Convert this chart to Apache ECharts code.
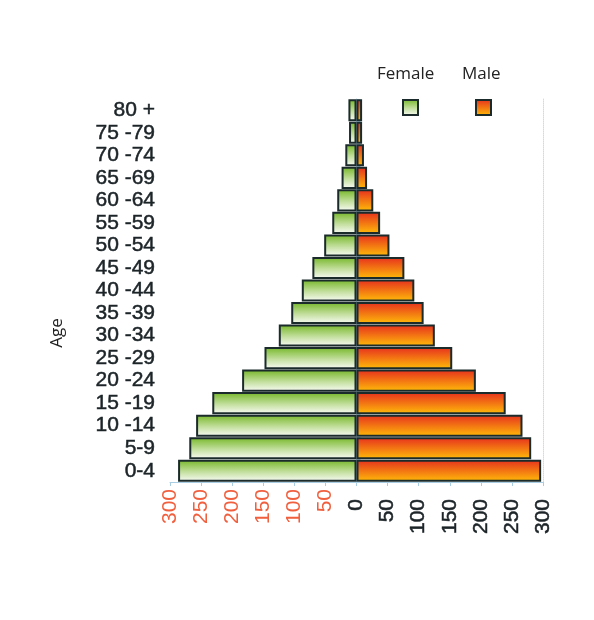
<!DOCTYPE html>
<html>
<head>
<meta charset="utf-8">
<script src="https://cdn.jsdelivr.net/npm/echarts@6/dist/echarts.min.js"></script>
<style>
  html, body { margin: 0; padding: 0; background: #fff; }
  #main { width: 594px; height: 620px; }
</style>
</head>
<body>
<div id="main"></div>
<script>
// age groups, bottom to top
var ageGroups = ['0-4', '5-9', '10 -14', '15 -19', '20 -24', '25 -29', '30 -34', '35 -39',
  '40 -44', '45 -49', '50 -54', '55 -59', '60 -64', '65 -69', '70 -74', '75 -79', '80 +'];
var female = [287, 269, 258, 232, 184, 148, 125, 105, 88, 71, 52, 39, 31, 24, 18, 12, 13];
var male = [297, 281, 267, 240, 192, 154, 126, 108, 93, 77, 53, 38, 27, 17, 12, 9, 9];

var chart = echarts.init(document.getElementById('main'), null, { renderer: 'canvas' });

var femaleFill = new echarts.graphic.LinearGradient(0, 0, 0, 1, [
  { offset: 0, color: '#74b626' },
  { offset: 0.55, color: '#c3df9e' },
  { offset: 1, color: '#fbfcf8' }
]);
var maleFill = new echarts.graphic.LinearGradient(0, 0, 0, 1, [
  { offset: 0, color: '#e62e1e' },
  { offset: 1, color: '#ffbd08' }
]);

var labelFont = { fontFamily: 'Liberation Sans', fontSize: 21, textBorderWidth: 0.5 };

var option = {
  backgroundColor: '#fff',
  animation: false,
  grid: { left: 170, right: 51, top: 99, bottom: 138 },
  legend: [
    {
      data: ['Female'], left: 397, top: 94, itemWidth: 15, itemHeight: 15, icon: 'rect',
      formatter: function () { return ''; }, selectedMode: false
    },
    {
      data: ['Male'], left: 470, top: 94, itemWidth: 15, itemHeight: 15, icon: 'rect',
      formatter: function () { return ''; }, selectedMode: false
    }
  ],
  graphic: [
    { type: 'text', left: 377, top: 66, style: { text: 'Female', font: '17px "Open Sans"', fill: '#222' } },
    { type: 'text', left: 462, top: 66, style: { text: 'Male', font: '17px "Open Sans"', fill: '#222' } },
    {
      type: 'text', x: 57, y: 333, rotation: Math.PI / 2,
      style: { text: 'Age', font: '17px "Open Sans"', fill: '#222', align: 'center', verticalAlign: 'middle' }
    }
  ],
  xAxis: {
    type: 'value',
    min: -300,
    max: 300,
    interval: 50,
    splitLine: { show: false },
    axisLine: { show: true, lineStyle: { color: '#a9cde3' } },
    axisTick: { show: true, length: 4, lineStyle: { color: '#a9cde3' } },
    axisLabel: Object.assign({
      rotate: 90,
      margin: 7,
      color: function (v) { return v < 0 ? '#f0603f' : '#1c2428'; },
      textBorderColor: 'inherit',
      formatter: function (v) {
        return v < 0 ? String(Math.abs(v)) : '{p|' + v + '}';
      },
      rich: {
        p: {
          padding: [0, 10, 0, 0], fontFamily: 'Liberation Sans', fontSize: 21,
          color: '#1c2428', textBorderColor: '#1c2428', textBorderWidth: 0.5
        }
      }
    }, labelFont)
  },
  yAxis: [
    {
      type: 'category',
      data: ageGroups,
      axisLine: { show: true, lineStyle: { color: '#a9cde3' } },
      axisTick: { show: true, inside: true, length: 4, lineStyle: { color: '#a9cde3' } },
      axisLabel: Object.assign({
        interval: 0, hideOverlap: false, margin: 15,
        color: '#1c2428', textBorderColor: '#1c2428'
      }, labelFont)
    },
    {
      type: 'category',
      data: ageGroups,
      position: 'right',
      axisLine: { show: true, lineStyle: { color: '#c6dfee', type: 'dotted' } },
      axisTick: { show: false },
      axisLabel: { show: false }
    }
  ],
  series: [
    {
      name: 'Female',
      type: 'bar',
      stack: 'pop',
      barCategoryGap: '2%',
      data: female.map(function (v) { return -v; }),
      itemStyle: { color: femaleFill, borderColor: '#1b2b2b', borderWidth: 2 }
    },
    {
      name: 'Male',
      type: 'bar',
      stack: 'pop',
      barCategoryGap: '2%',
      data: male,
      itemStyle: { color: maleFill, borderColor: '#1b2b2b', borderWidth: 2 }
    }
  ]
};

chart.setOption(option);
</script>
</body>
</html>
